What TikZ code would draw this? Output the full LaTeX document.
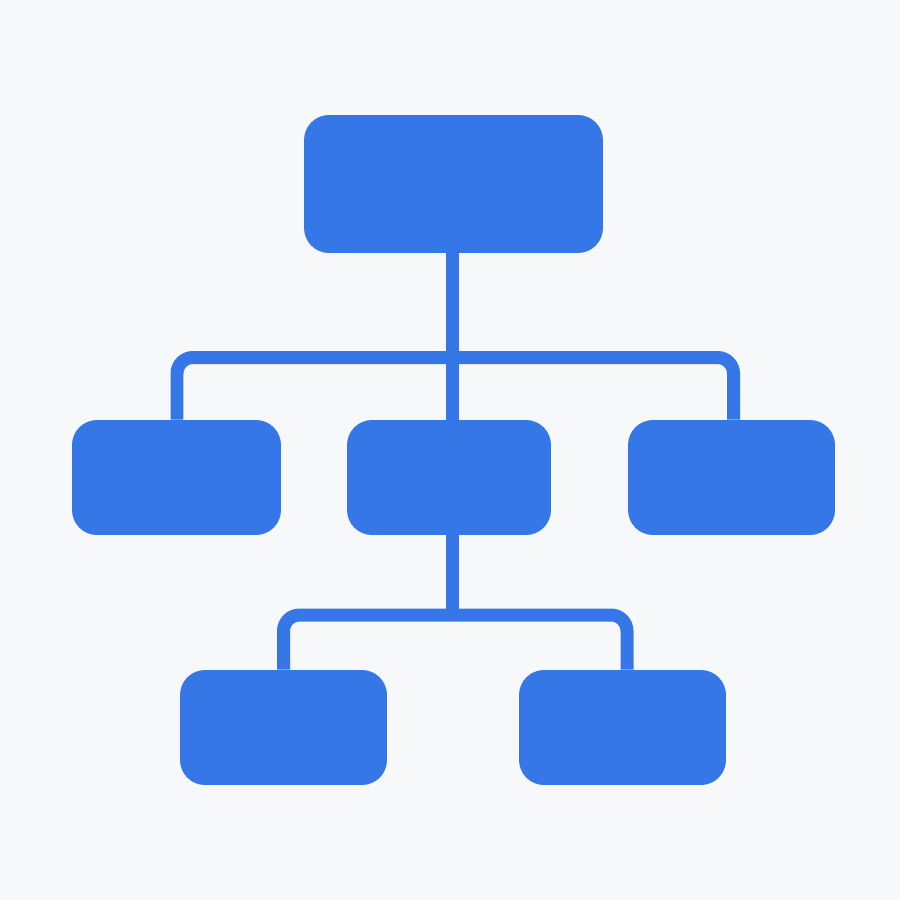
\documentclass[tikz,border=0pt]{standalone}
\definecolor{chartblue}{HTML}{3677E8}
\definecolor{bgpaper}{HTML}{F7F8FA}
\begin{document}
\begin{tikzpicture}[x=.02cm, y=-.02cm,
    box/.style={fill=chartblue, rounded corners=.5cm, inner sep=0pt},
    link/.style={draw=chartblue, line width=.26cm, rounded corners=.32cm}]
\fill[bgpaper] (0,0) rectangle (900,900);
% boxes
\node[box, minimum width=5.98cm, minimum height=2.76cm] (top) at (453.5,184) {};
\node[box, minimum width=4.18cm, minimum height=2.3cm] (midL) at (176.5,477.5) {};
\node[box, minimum width=4.08cm, minimum height=2.3cm] (midC) at (449,477.5) {};
\node[box, minimum width=4.14cm, minimum height=2.3cm] (midR) at (731.5,477.5) {};
\node[box, minimum width=4.14cm, minimum height=2.3cm] (botL) at (283.5,727.5) {};
\node[box, minimum width=4.14cm, minimum height=2.3cm] (botR) at (622.5,727.5) {};
\coordinate (bar1) at (452.5,357.5);
\coordinate (bar2) at (452.5,615);
% connectors
\draw[link] (top.south -| bar1) -- (midC.north -| bar1);
\draw[link] ([xshift=.01cm]midL.north) |- (bar1) -| ([xshift=.04cm]midR.north);
\draw[link] (midC.south -| bar2) -- (bar2);
\draw[link] (botL.north) |- (bar2) -| ([xshift=.09cm]botR.north);
\end{tikzpicture}
\end{document}
